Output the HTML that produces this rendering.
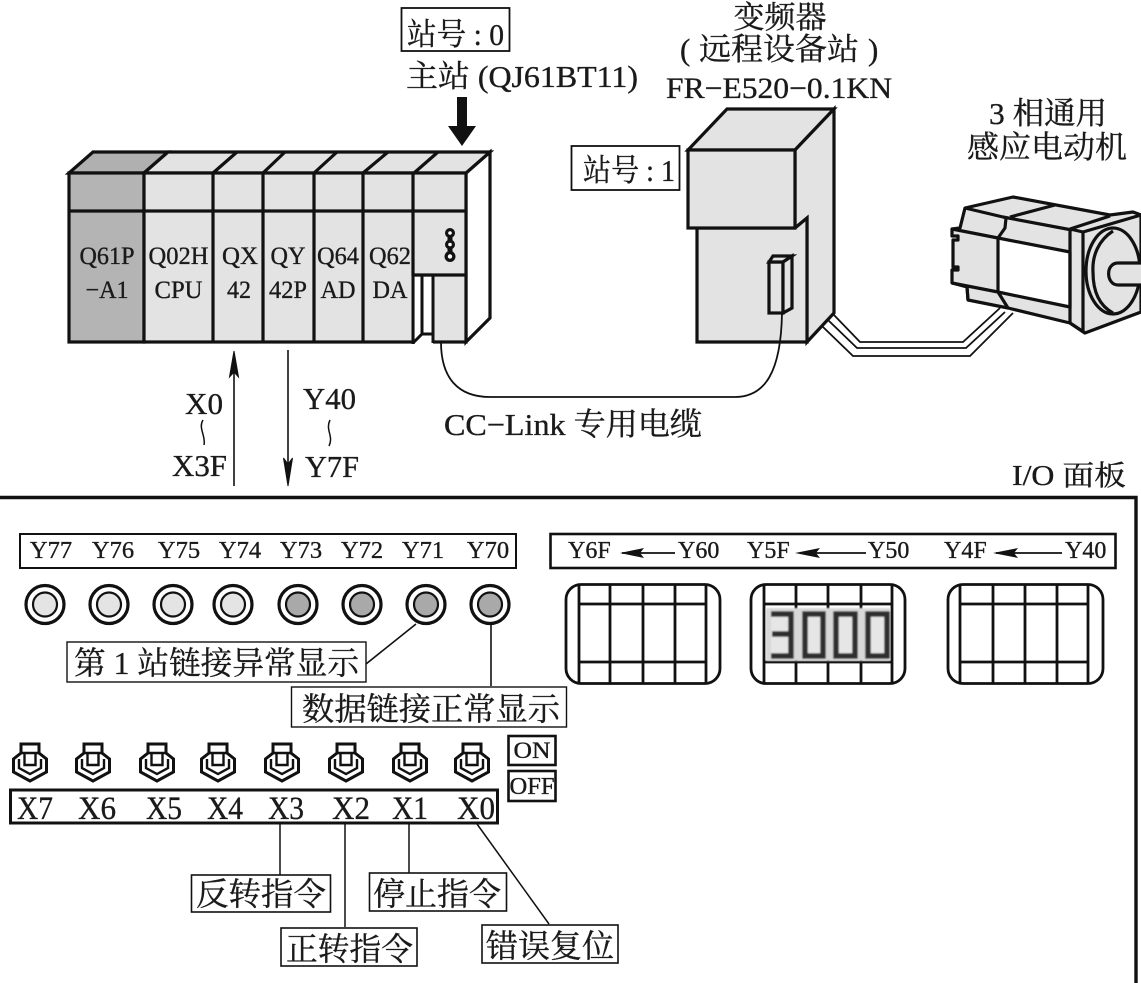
<!DOCTYPE html>
<html><head><meta charset="utf-8"><style>
html,body{margin:0;padding:0;background:#fff;width:1141px;height:983px;overflow:hidden}
svg{display:block}
text{font-family:"Liberation Serif","Noto Serif CJK SC",serif;fill:#1a1a1a;stroke:#1a1a1a;stroke-width:.35}
.h{stroke:#111;fill:none}
</style></head><body>
<svg width="1141" height="983" viewBox="0 0 1141 983" xmlns="http://www.w3.org/2000/svg">
<defs>
<g id="sw" fill="none" stroke="#111">
<path d="M-9 -18H9V-9L16.500 -3V10L0 19L-16.500 10V-3L-9 -9Z" stroke-width="3" fill="#fff"/>
<path d="M-9 -9H9M-5.500 -9V3H5.500V-9" stroke-width="2.4"/>
<path d="M-11 -3V6L0 12L11 6V-3" stroke-width="2.4"/>
</g>
<g id="led0"><circle r="19" fill="#fff" stroke="#111" stroke-width="3.2"/><circle r="12" fill="#e4e4e4" stroke="#111" stroke-width="2.2"/></g>
<g id="led1"><circle r="19" fill="#fff" stroke="#111" stroke-width="3.2"/><circle r="12" fill="#a9a9a9" stroke="#111" stroke-width="2.2"/></g>
<filter id="b"><feGaussianBlur stdDeviation="0.8"/></filter>
</defs>

<!-- PLC -->
<g stroke="#111" stroke-width="3.2" stroke-linejoin="miter">
<polygon points="490,152 490,318 466,342 466,173" fill="#fff"/>
<polygon points="69,173 93,152 168,152 144,173" fill="#b0b0b0"/>
<polygon points="144,173 168,152 490,152 466,173" fill="#e3e3e3"/>
<rect x="69" y="173" width="75" height="169" fill="#b4b4b4"/>
<rect x="144" y="173" width="322" height="169" fill="#e3e3e3"/>
<path d="M69 211H466M213 173V342M263 173V342M314 173V342M363 173V342M413 173V276M213 173L237 152M263 173L285 152M314 173L337 152M363 173L388 152M414 173L438 152" fill="none"/>
<path d="M414 275H466" fill="none"/>
<rect x="415" y="277" width="18" height="68" fill="#fff" stroke="none"/>
<path d="M413 275V344M422 275V334M433 275V343M414 342L422 334H433" fill="none" stroke-width="3"/>
</g>
<path d="M450 233V256" stroke="#111" stroke-width="5"/>
<g fill="#111"><circle cx="450" cy="233" r="5"/><circle cx="450" cy="244.500" r="5"/><circle cx="450" cy="256.500" r="5.500"/></g>
<g fill="#fff"><circle cx="450" cy="233" r="1.800"/><circle cx="450" cy="244.500" r="1.800"/><circle cx="450" cy="256.500" r="2.200"/></g>
<g font-size="25" text-anchor="middle">
<text x="107" y="264" textLength="55" lengthAdjust="spacingAndGlyphs">Q61P</text><text x="107" y="298" textLength="43" lengthAdjust="spacingAndGlyphs">−A1</text>
<text x="178.500" y="264" textLength="60" lengthAdjust="spacingAndGlyphs">Q02H</text><text x="178.500" y="298" textLength="48" lengthAdjust="spacingAndGlyphs">CPU</text>
<text x="240" y="264" textLength="36" lengthAdjust="spacingAndGlyphs">QX</text><text x="239" y="298" textLength="24" lengthAdjust="spacingAndGlyphs">42</text>
<text x="288" y="264" textLength="35" lengthAdjust="spacingAndGlyphs">QY</text><text x="288" y="298" textLength="38" lengthAdjust="spacingAndGlyphs">42P</text>
<text x="338" y="264" textLength="42" lengthAdjust="spacingAndGlyphs">Q64</text><text x="338" y="298" textLength="35" lengthAdjust="spacingAndGlyphs">AD</text>
<text x="390" y="264" textLength="42" lengthAdjust="spacingAndGlyphs">Q62</text><text x="390" y="298" textLength="35" lengthAdjust="spacingAndGlyphs">DA</text>
</g>

<!-- top labels -->
<rect x="401.500" y="8" width="108" height="43" fill="#fff" stroke="#111" stroke-width="1.8"/>
<text x="407" y="45" font-size="31" textLength="97" lengthAdjust="spacingAndGlyphs">站号 : 0</text>
<text x="406" y="87" font-size="31" textLength="232" lengthAdjust="spacingAndGlyphs">主站 (QJ61BT11)</text>
<polygon points="457,97 467,97 467,126 476,126 462,146 448,126 457,126" fill="#111"/>
<text x="780" y="28" font-size="31" text-anchor="middle">变频器</text>
<text x="680" y="60" font-size="31">(</text>
<text x="699" y="60" font-size="31" textLength="160" lengthAdjust="spacingAndGlyphs">远程设备站</text>
<text x="868" y="60" font-size="31">)</text>
<text x="666" y="98" font-size="30" textLength="226" lengthAdjust="spacingAndGlyphs">FR−E520−0.1KN</text>
<rect x="571.500" y="146" width="108" height="44" fill="#fff" stroke="#111" stroke-width="1.8"/>
<text x="583" y="181" font-size="31" textLength="92" lengthAdjust="spacingAndGlyphs">站号 : 1</text>
<text x="989" y="124" font-size="31" textLength="118" lengthAdjust="spacingAndGlyphs">3 相通用</text>
<text x="967" y="158" font-size="31" textLength="160" lengthAdjust="spacingAndGlyphs">感应电动机</text>

<!-- Inverter -->
<g stroke="#111" stroke-width="3.2" fill="#e3e3e3" stroke-linejoin="miter">
<polygon points="688,150 727,109 834,109 795,150"/>
<polygon points="795,150 834,109 834,313 807,342 807,218 795,228"/>
<polygon points="697,228 795,228 807,218 807,342 697,342"/>
<rect x="688" y="150" width="107" height="78"/>
<rect x="769" y="262" width="14" height="51"/>
<polygon points="769,262 773,256 792,256 783,262"/>
<polygon points="783,262 792,256 792,308 783,313"/>
</g>

<!-- Cables -->
<g class="h" stroke-width="1.8">
<path d="M833 314L860 342H963L1000 308"/>
<path d="M828 320L857 348H966L1005 312"/>
<path d="M823 327L853 356H970L1013 313"/>
<path d="M441 342C441 378 458 397 490 397H735C765 397 781 372 782 313"/>
</g>

<!-- Motor -->
<g stroke="#111" stroke-width="3.2" fill="#e3e3e3" stroke-linejoin="round">
<polygon points="965,208 1013,197 1110,215 1133,212 1141,215 1141,312 1085,333 1070,323 1008,308 968,300 967,287 952,283 952,270 958,270 958,267 953,267 953,240 958,240 958,236 952,236 952,229 960,228"/>
<polygon points="998,238 1070,252 1070,307 998,292" fill="#fff"/>
<path d="M965 208L1003 217L1072 230M1055 205L1010 217M1006 218L1005 228L998 238M998 292L1008 308M952 229L998 238M952 283L998 292M967 287L968 300M1070 229V323M1083 232V333M1070 229L1083 232L1141 215M1070 229L1110 216M1085 333L1070 323" fill="none"/>
<ellipse cx="1113" cy="271" rx="27" ry="43"/>
<path d="M1113 231C1099 240 1092 255 1093 272C1093 292 1100 306 1113 313" fill="none"/>
<path d="M1141 263H1118C1105 263 1106 285 1118 285H1141" />
</g>

<!-- IO arrows -->
<g class="h" stroke-width="1.6"><path d="M234 362V486M288 350V475"/></g>
<polygon points="234,351 238.500,377 234,372 229.500,377" fill="#111" stroke="#111"/>
<polygon points="288,486 292.500,458 288,464 283.500,458" fill="#111" stroke="#111"/>
<text x="185" y="414" font-size="31" textLength="38" lengthAdjust="spacingAndGlyphs">X0</text>
<text x="172" y="476" font-size="31" textLength="55" lengthAdjust="spacingAndGlyphs">X3F</text>
<text x="303" y="409" font-size="31" textLength="53" lengthAdjust="spacingAndGlyphs">Y40</text>
<text x="305" y="477" font-size="31" textLength="54" lengthAdjust="spacingAndGlyphs">Y7F</text>
<path d="M203 420C198 428 206 436 204 445M330 420C325 430 334 436 329 446" class="h" stroke-width="1.500"/>
<text x="444" y="435" font-size="31" textLength="258" lengthAdjust="spacingAndGlyphs">CC−Link 专用电缆</text>
<text x="1012" y="485" font-size="28" textLength="114" lengthAdjust="spacingAndGlyphs">I/O 面板</text>

<!-- Panel frame -->
<path d="M0 497.500H1136V983" class="h" stroke-width="3.4"/>

<!-- Y boxes -->
<rect x="20" y="534" width="496" height="34" fill="#fff" stroke="#111" stroke-width="2"/>
<g font-size="24.500" text-anchor="middle">
<text x="51" y="558">Y77</text><text x="113" y="558">Y76</text><text x="179" y="558">Y75</text><text x="240" y="558">Y74</text>
<text x="301" y="558">Y73</text><text x="362" y="558">Y72</text><text x="423" y="558">Y71</text><text x="488" y="558">Y70</text>
</g>
<rect x="550.500" y="534" width="565" height="34" fill="#fff" stroke="#111" stroke-width="2.6"/>
<g font-size="24">
<text x="568" y="558">Y6F</text><text x="678" y="558">Y60</text>
<text x="747" y="558">Y5F</text><text x="868" y="558">Y50</text>
<text x="944" y="558">Y4F</text><text x="1065" y="558">Y40</text>
</g>
<g class="h" stroke-width="1.8"><path d="M622 553H675M802 553H866M996 553H1062"/></g>
<g fill="#111"><polygon points="620,553 644,548 640,553 644,558"/><polygon points="795,553 820,548 816,553 820,558"/><polygon points="993,553 1018,548 1014,553 1018,558"/></g>

<!-- Displays -->
<g class="h" stroke-width="2.8">
<rect x="566" y="584.500" width="154" height="99" rx="15"/>
<path d="M579 585V683M610 585V683M643 585V683M675 585V683M706 585V683M579 604H706M579 662H706"/>
<rect x="751" y="584.500" width="154" height="99" rx="15"/>
<path d="M764 585V683M796 585V683M828 585V683M861 585V683M892 585V683M764 604H892M764 662H892"/>
<rect x="948" y="584.500" width="155" height="99" rx="15"/>
<path d="M960 585V683M993 585V683M1025 585V683M1057 585V683M1088 585V683M960 604H1088M960 662H1088"/>
</g>
<g filter="url(#b)">
<rect x="766" y="608" width="124" height="53" fill="#d8d8d8"/>
<path d="M771 614H791V656H771M772 634H791M805 614H823V656H805ZM836 614H855V656H836ZM868 614H887V656H868Z" fill="#e6e6e6" stroke="#2e2e2e" stroke-width="5.500"/>
<path d="M768 614V656" stroke="#e6e6e6" stroke-width="0"/>
</g>

<!-- LEDs -->
<use href="#led0" x="45" y="604.500"/><use href="#led0" x="109" y="604.500"/><use href="#led0" x="173" y="604.500"/><use href="#led0" x="233" y="604.500"/>
<use href="#led1" x="298" y="604.500"/><use href="#led1" x="362" y="604.500"/><use href="#led1" x="426" y="604.500"/><use href="#led1" x="490" y="604.500"/>

<!-- LED labels -->
<path d="M366 664L416 624M491 624V686" class="h" stroke-width="1.6"/>
<rect x="67" y="642" width="299" height="40" fill="#fff" stroke="#111" stroke-width="1.4"/>
<text x="74" y="674" font-size="32" textLength="285" lengthAdjust="spacingAndGlyphs">第 1 站链接异常显示</text>
<rect x="291.500" y="687" width="275" height="40" fill="#fff" stroke="#111" stroke-width="1.4"/>
<text x="302" y="720" font-size="32" textLength="258" lengthAdjust="spacingAndGlyphs">数据链接正常显示</text>

<!-- Switches -->
<use href="#sw" x="30" y="762"/><use href="#sw" x="93" y="762"/><use href="#sw" x="157" y="762"/><use href="#sw" x="218" y="762"/>
<use href="#sw" x="282" y="762"/><use href="#sw" x="346" y="762"/><use href="#sw" x="410" y="762"/><use href="#sw" x="472" y="762"/>

<rect x="508.500" y="736" width="47" height="29" fill="#fff" stroke="#111" stroke-width="2.6"/>
<text x="532" y="758" font-size="23" text-anchor="middle" textLength="37" lengthAdjust="spacingAndGlyphs">ON</text>
<rect x="508.500" y="771" width="47" height="30" fill="#fff" stroke="#111" stroke-width="2.6"/>
<text x="532" y="794" font-size="24" text-anchor="middle" textLength="45" lengthAdjust="spacingAndGlyphs">OFF</text>

<rect x="10.500" y="790" width="487" height="33" fill="#fff" stroke="#111" stroke-width="3"/>
<g font-size="33">
<text x="17" y="819" textLength="36" lengthAdjust="spacingAndGlyphs">X7</text><text x="78" y="819" textLength="38" lengthAdjust="spacingAndGlyphs">X6</text><text x="146" y="819" textLength="36" lengthAdjust="spacingAndGlyphs">X5</text><text x="207" y="819" textLength="36" lengthAdjust="spacingAndGlyphs">X4</text>
<text x="268" y="819" textLength="36" lengthAdjust="spacingAndGlyphs">X3</text><text x="332" y="819" textLength="38" lengthAdjust="spacingAndGlyphs">X2</text><text x="392" y="819" textLength="36" lengthAdjust="spacingAndGlyphs">X1</text><text x="457" y="819" textLength="38" lengthAdjust="spacingAndGlyphs">X0</text>
</g>

<!-- Bottom labels -->
<path d="M280 824V875M345 824V927M409 824V873M477 824L549 924" class="h" stroke-width="1.5"/>
<rect x="191.500" y="875" width="139" height="37" fill="#fff" stroke="#111" stroke-width="1.6"/>
<text x="196" y="905" font-size="32" textLength="130" lengthAdjust="spacingAndGlyphs">反转指令</text>
<rect x="369.500" y="873" width="137" height="38" fill="#fff" stroke="#111" stroke-width="1.6"/>
<text x="373" y="905" font-size="32" textLength="128" lengthAdjust="spacingAndGlyphs">停止指令</text>
<rect x="281" y="928" width="136" height="38" fill="#fff" stroke="#111" stroke-width="1.6"/>
<text x="286" y="960" font-size="32" textLength="127" lengthAdjust="spacingAndGlyphs">正转指令</text>
<rect x="482" y="925" width="136" height="38" fill="#fff" stroke="#111" stroke-width="1.6"/>
<text x="486" y="957" font-size="32" textLength="128" lengthAdjust="spacingAndGlyphs">错误复位</text>
</svg>
</body></html>
